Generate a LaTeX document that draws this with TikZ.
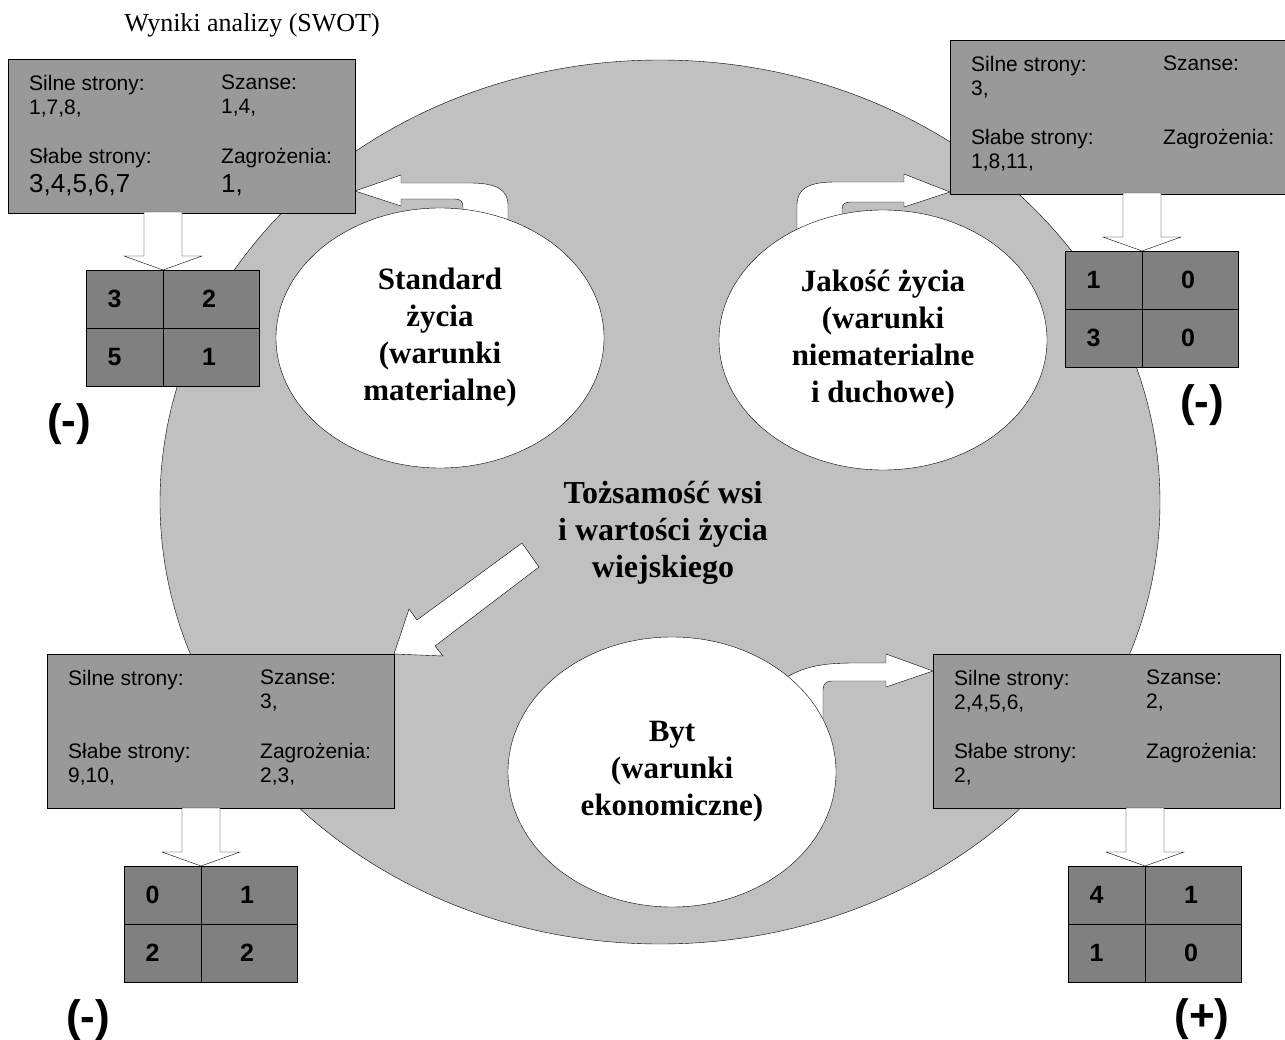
\documentclass[tikz,border=0pt]{standalone}
\usepackage{fontspec}
\setmainfont{Liberation Serif}
\setsansfont{Liberation Sans}
\usepackage{tikz}
\usetikzlibrary{shapes.geometric,calc}

\definecolor{ringgray}{RGB}{192,192,192}
\definecolor{boxgray}{RGB}{153,153,153}
\definecolor{cellgray}{RGB}{128,128,128}

\pgfdeclarelayer{ringlayer}
\pgfdeclarelayer{arrowlayer}
\pgfsetlayers{ringlayer,arrowlayer,main}

\tikzset{
  swot/.style={draw, fill=boxgray, anchor=north west, minimum width=347pt, minimum height=154pt, inner sep=0pt, outer sep=0pt},
  quad/.style={anchor=north west, align=left, inner sep=0pt, font=\sffamily\fontsize{21}{24}\selectfont},
  cellL/.style={draw, fill=cellgray, anchor=north west, minimum width=77pt, minimum height=58pt, inner sep=0pt, outer sep=0pt},
  cellR/.style={cellL, minimum width=96pt},
  tally/.style={inner sep=0pt, font=\sffamily\bfseries\fontsize{25}{28}\selectfont},
  life/.style={draw, fill=white, ellipse, minimum width=328pt, minimum height=260pt, inner sep=0pt, align=center, font=\bfseries\fontsize{31}{37}\selectfont},
  hollow/.style={draw, fill=white, line join=miter},
  verdict/.style={inner sep=0pt, font=\sffamily\bfseries\fontsize{44}{48}\selectfont},
}

% box with the four SWOT fields
\newcommand\swotbox[6]{%
  \node[swot] (#1) at (#2) {};
  \node[quad] (#1-s) at ([shift={(21,16)}]#1.north west) {#3};
  \node[quad] (#1-o) at ([shift={(213,16)}]#1.north west) {#4};
  \node[quad] (#1-w) at ([shift={(21,89)}]#1.north west) {#5};
  \node[quad] (#1-t) at ([shift={(213,89)}]#1.north west) {#6};
}

% 2x2 grid of counts, fed by a hollow arrow from above
\newcommand\swotgrid[6]{%
  \node[cellL] (#1-a) at (#2) {};
  \node[cellR] (#1-b) at (#1-a.north east) {};
  \node[cellL] (#1-c) at (#1-a.south west) {};
  \node[cellR] (#1-d) at (#1-c.north east) {};
  \node[tally] (#1-na) at ([xshift=-10pt]#1-a.center) {#3};
  \node[tally] (#1-nb) at ([xshift=-2pt]#1-b.center) {#4};
  \node[tally] (#1-nc) at ([xshift=-10pt]#1-c.center) {#5};
  \node[tally] (#1-nd) at ([xshift=-2pt]#1-d.center) {#6};
  \draw[hollow] (#1-a.north east) -- ++(-39,-14) -- ++(20,0) -- ++(0,-44) -- ++(38,0) -- ++(0,44) -- ++(20,0) -- cycle;
}

\begin{document}
\begin{tikzpicture}[x=1pt, y=-1pt, line width=2pt]
  \useasboundingbox (0,0) rectangle (1285,1040);

  \begin{pgfonlayer}{ringlayer}
    \node[draw, fill=ringgray, ellipse, minimum width=1000pt, minimum height=884pt] (ring) at (660,502) {};
  \end{pgfonlayer}

  \node[anchor=base, font=\fontsize{26}{30}\selectfont] (title) at (252,32) {Wyniki analizy (SWOT)};

  \node[life] (standard) at (440,338) {Standard\\życia\\(warunki\\materialne)};
  \node[life] (jakosc) at (883,340) {Jakość życia\\(warunki\\niematerialne\\i duchowe)};
  \node[life, minimum height=270pt] (byt) at (672,772) {Byt\\(warunki\\ekonomiczne)};
  \node[align=center, font=\bfseries\fontsize{32}{37}\selectfont] (tozsamosc) at (663,533) {Tożsamość wsi\\i wartości życia\\wiejskiego};

  \swotbox{tl}{8,59}{Silne strony:\\1,7,8,}{Szanse:\\1,4,}{Słabe strony:\\[5pt]{\fontsize{26}{29}\selectfont 3,4,5,6,7}}{Zagrożenia:\\[5pt]{\fontsize{26}{29}\selectfont 1,}}
  \swotbox{tr}{950,40}{Silne strony:\\3,}{Szanse:}{Słabe strony:\\1,8,11,}{Zagrożenia:}
  \swotbox{bl}{47,654}{Silne strony:}{Szanse:\\3,}{Słabe strony:\\9,10,}{Zagrożenia:\\2,3,}
  \swotbox{br}{933,654}{Silne strony:\\2,4,5,6,}{Szanse:\\2,}{Słabe strony:\\2,}{Zagrożenia:}

  \swotgrid{tlm}{86,270}{3}{2}{5}{1}
  \swotgrid{trm}{1065,251}{1}{0}{3}{0}
  \swotgrid{blm}{124,866}{0}{1}{2}{2}
  \swotgrid{brm}{1068,866}{4}{1}{1}{0}

  % bent arrows out of the ellipses
  \begin{pgfonlayer}{arrowlayer}
    \draw[hollow] ([yshift=22pt]tl.south east) -- (401,175) -- (401,183) -- (470,183) .. controls (497,183) and (508,190) .. (508,205) -- (508,234) -- (463,234) -- (463,207) .. controls (463,202) and (461,199) .. (455,199) -- (401,199) -- (401,206) -- cycle;
    \draw[hollow] ([yshift=2pt]tr.south west) -- (904,207) -- (904,202) -- (851,202) .. controls (845,202) and (842,204) .. (842,209) -- (842,234) -- (797,244) -- (797,205) .. controls (797,189) and (808,182) .. (835,182) -- (904,182) -- (904,174) -- cycle;
    \draw[hollow] ([yshift=-17pt]br.north west) -- (886,654) -- (886,663) -- (855,663) .. controls (822,663) and (800,666) .. (775,685) -- (823,728) -- (823,690) .. controls (823,684) and (826,681) .. (832,681) -- (886,681) -- (886,687) -- cycle;
  \end{pgfonlayer}

  \draw[hollow] (bl.north east) -- (409,609) -- (417,620) -- (522,543) -- (539,567) -- (435,646) -- (443,656) -- cycle;

  \node[verdict] (tl-sign) at (69,424) {(-)};
  \node[verdict] (tr-sign) at (1202,405) {(-)};
  \node[verdict] (bl-sign) at (88,1020) {(-)};
  \node[verdict] (br-sign) at (1202,1019) {(+)};
\end{tikzpicture}
\end{document}
